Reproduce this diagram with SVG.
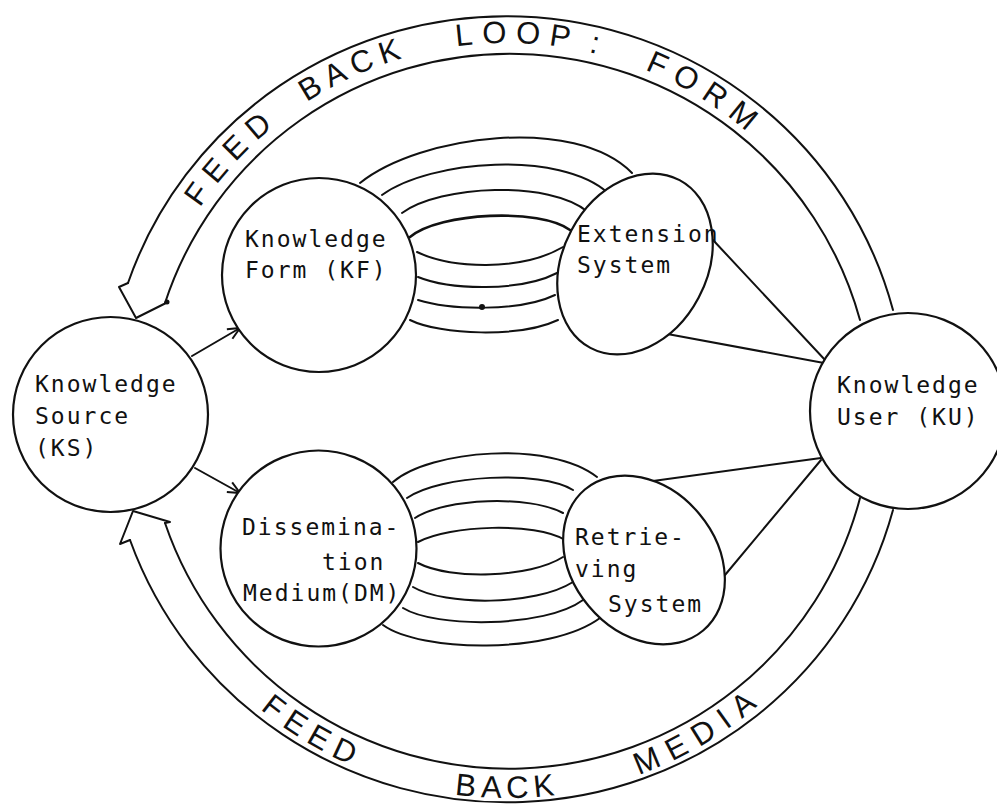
<svg xmlns="http://www.w3.org/2000/svg" width="997" height="804" viewBox="0 0 997 804">
<style>
.ln{fill:none;stroke:#111;stroke-width:2;stroke-linecap:round;stroke-linejoin:round}
.nd{fill:#fff;stroke:#111;stroke-width:2.2}
.lbl{font-family:"DejaVu Sans Mono","Liberation Mono",monospace;font-size:23px;letter-spacing:2px;fill:#111}
.fb{font-family:"Liberation Sans",Arial,sans-serif;font-size:31px;fill:#111}
</style>
<defs>
<marker id="ah" viewBox="0 0 14 14" refX="13" refY="7" markerWidth="14" markerHeight="14" markerUnits="userSpaceOnUse" orient="auto">
<path d="M1,1.5 L13,7 L1,12.5" fill="none" stroke="#111" stroke-width="2"/>
</marker>
<path id="topPath" d="M139,411 A368,368 0 0 1 875,411"/>
<path id="botPath" d="M120,411 A387,387 0 0 0 894,411"/>
</defs>
<rect width="997" height="804" fill="#fff"/>

<g id="connectors">
<path class="ln" d="M128,283 A400,395 0 0 1 893,310"/>
<path class="ln" d="M165,303 A363,362 0 0 1 860,320"/>
<polyline class="ln" points="128,283 119,287 136,318 168,302 165,303"/>
<circle cx="167" cy="302" r="2.5" fill="#111"/>
<path class="ln" d="M130,540 A400,395 0 0 0 893,510"/>
<path class="ln" d="M165,523 A363,362 0 0 0 860,498"/>
<polyline class="ln" points="130,540 120,544 133,511 170,522 165,523"/>
<line class="ln" x1="192" y1="356" x2="240" y2="328" marker-end="url(#ah)"/>
<line class="ln" x1="195" y1="468" x2="240" y2="493" marker-end="url(#ah)"/>
<path class="ln" d="M360,183 C420,135 575,115 632,173"/>
<path class="ln" d="M382,195 C430,160 560,150 608,193"/>
<path class="ln" d="M402,213 C440,185 550,180 588,212"/>
<path class="ln" d="M410,237 C440,212 540,208 570,230" style="stroke-width:2.6"/>
<path class="ln" d="M417,252 C450,268 520,272 563,247"/>
<path class="ln" d="M418,277 C450,290 520,292 557,273"/>
<path class="ln" d="M418,300 C450,310 520,312 555,295"/>
<circle cx="482" cy="307" r="3" fill="#111"/>
<path class="ln" d="M410,320 C440,335 520,338 558,320"/>
<path class="ln" d="M393,482 C430,450 550,440 597,477"/>
<path class="ln" d="M407,498 C440,475 540,470 573,490"/>
<path class="ln" d="M415,518 C445,498 530,495 563,513"/>
<path class="ln" d="M418,542 C450,525 535,522 565,540"/>
<path class="ln" d="M418,563 C450,580 530,578 563,557"/>
<path class="ln" d="M413,587 C445,606 535,606 573,582"/>
<path class="ln" d="M403,608 C435,628 545,628 583,600"/>
<path class="ln" d="M383,625 C420,652 550,655 600,618"/>
<line class="ln" x1="713" y1="240" x2="826" y2="361"/>
<line class="ln" x1="662" y1="333" x2="824" y2="363"/>
<line class="ln" x1="653" y1="481" x2="821" y2="458"/>
<line class="ln" x1="725" y1="575" x2="821" y2="460"/>
</g>

<g id="feedback-labels">
<text class="fb"><textPath href="#topPath" startOffset="215" letter-spacing="9">FEED</textPath></text>
<text class="fb"><textPath href="#topPath" startOffset="366" letter-spacing="7">BACK</textPath></text>
<text class="fb"><textPath href="#topPath" startOffset="527" letter-spacing="9">LOOP</textPath></text>
<text class="fb"><textPath href="#topPath" startOffset="660">:</textPath></text>
<text class="fb"><textPath href="#topPath" startOffset="719" letter-spacing="9.5">FORM</textPath></text>
<text class="fb"><textPath href="#botPath" startOffset="340" letter-spacing="8">FEED</textPath></text>
<text class="fb"><textPath href="#botPath" startOffset="555" letter-spacing="5.5">BACK</textPath></text>
<text class="fb"><textPath href="#botPath" startOffset="742" letter-spacing="10">MEDIA</textPath></text>
</g>

<g id="node-ks">
<circle class="nd" cx="110.5" cy="414.5" r="97.5"/>
<text class="lbl" x="35" y="392">Knowledge</text>
<text class="lbl" x="35" y="424">Source</text>
<text class="lbl" x="35" y="456">(KS)</text>
</g>
<g id="node-kf">
<circle class="nd" cx="319" cy="275" r="97"/>
<text class="lbl" x="245" y="247">Knowledge</text>
<text class="lbl" x="245" y="278">Form (KF)</text>
</g>
<g id="node-es">
<ellipse class="nd" cx="635" cy="264" rx="72" ry="95" transform="rotate(28 635 264)"/>
<text class="lbl" x="577" y="242">Extension</text>
<text class="lbl" x="577" y="273">System</text>
</g>
<g id="node-dm">
<circle class="nd" cx="318.5" cy="548.5" r="98"/>
<text class="lbl" x="242" y="535">Dissemina-</text>
<text class="lbl" x="322" y="570">tion</text>
<text class="lbl" x="243" y="601">Medium(DM)</text>
</g>
<g id="node-rs">
<ellipse class="nd" cx="644" cy="560" rx="72" ry="92" transform="rotate(-40 644 560)"/>
<text class="lbl" x="575" y="545">Retrie-</text>
<text class="lbl" x="575" y="577">ving</text>
<text class="lbl" x="608" y="612">System</text>
</g>
<g id="node-ku">
<circle class="nd" cx="908" cy="411" r="98"/>
<text class="lbl" x="837" y="393">Knowledge</text>
<text class="lbl" x="837" y="425">User (KU)</text>
</g>
</svg>
